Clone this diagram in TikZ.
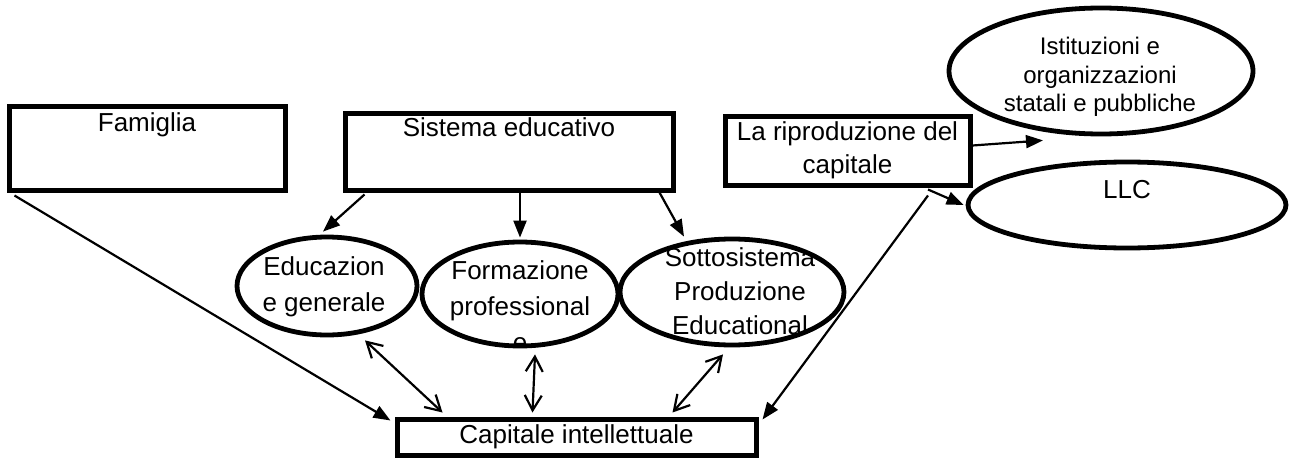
\documentclass[tikz,border=0pt]{standalone}
\usepackage{fontspec}
\setmainfont{Liberation Sans}
\usetikzlibrary{arrows.meta,shapes.geometric}
\begin{document}
\begin{tikzpicture}[x=1pt,y=-1pt,
  box/.style={draw, line width=5pt, rectangle, inner sep=0pt, fill=white},
  oval/.style={draw, line width=4.8pt, ellipse, inner sep=0pt, fill=white},
  txt/.style={inner sep=0pt, align=center, font=\fontsize{26}{36}\selectfont},
  conn/.style={line width=2.2pt, -{Triangle[length=17pt,width=13pt]}},
  dbl/.style={line width=2.2pt, {Straight Barb[length=15pt,width=17pt]}-{Straight Barb[length=15pt,width=17pt]}}
]
\useasboundingbox (0,0) rectangle (1298,460);

% boxes
\node[box, minimum width=276pt, minimum height=84pt] (fam) at (147,148) {};
\node[box, minimum width=328pt, minimum height=77pt] (sis) at (509,151.5) {};
\node[box, minimum width=245pt, minimum height=69pt, align=center,
      font=\fontsize{26}{33}\selectfont] (rip) at (847.5,150.5) {La riproduzione del\\capitale};
\node[box, minimum width=359pt, minimum height=36pt,
      font=\fontsize{26}{31}\selectfont] (cap) at (576.5,437) {Capitale intellettuale};

% ellipses
\node[oval, minimum width=180pt, minimum height=98pt] (edu) at (327,286) {};
\node[oval, minimum width=196pt, minimum height=104pt] (form) at (520,294) {};
\node[oval, minimum width=224pt, minimum height=106pt] (sotto) at (732,292) {};
\node[oval, minimum width=304pt, minimum height=126pt] (ist) at (1101,71) {};
\node[oval, minimum width=318pt, minimum height=86pt] (llc) at (1127,205) {};

% texts
\node[txt, anchor=base] (famt) at (147,131.7) {Famiglia};
\node[txt, anchor=base] (sist) at (509,136.7) {Sistema educativo};
\node[txt, anchor=base] (llct) at (1127,198.3) {LLC};
\node[txt] (edut) at (324,287) {Educazion\\e generale};
\begin{scope}
  \clip (400,200) rectangle (640,347);
  \node[txt] (formt) at (520,306.5) {Formazione\\professional\\e};
\end{scope}
\node[txt, font=\fontsize{26}{34}\selectfont] (sottot) at (740,291) {Sottosistema\\Produzione\\Educational};
\node[txt, font=\fontsize{24}{28.3}\selectfont] (istt) at (1100,77) {Istituzioni e\\organizzazioni\\statali e pubbliche};

% connectors
\draw[conn] ([xshift=8pt,yshift=-3pt]fam.south west) -- ([xshift=-4pt,yshift=-4pt]cap.north west);
\draw[conn] ([xshift=22pt,yshift=-2pt]sis.south west) -- ([xshift=-4pt,yshift=3pt]edu.north);
\draw[conn] ([xshift=11pt]sis.south) -- ([yshift=2pt]form.north);
\draw[conn] ([xshift=-16pt]sis.south east) -- ([xshift=-48pt]sotto.north);
\draw[dbl] ([xshift=38pt,yshift=-3pt]edu.south) -- ([xshift=48pt,yshift=4pt]cap.north west);
\draw[dbl] ([xshift=15pt,yshift=-6pt]form.south) -- ([xshift=138pt,yshift=4pt]cap.north west);
\draw[dbl] ([xshift=-9pt,yshift=-7pt]sotto.south) -- ([xshift=278pt,yshift=4pt]cap.north west);
\draw[conn] ([xshift=80.5pt,yshift=-8pt]rip.south) -- ([xshift=4pt,yshift=-3pt]cap.north east);
\draw[conn] ([yshift=5pt]rip.east) -- ([xshift=-58pt,yshift=-4pt]ist.south);
\draw[conn] ([xshift=80.5pt,yshift=-2pt]rip.south) -- ([xshift=-2pt]llc.west);
\end{tikzpicture}
\end{document}
